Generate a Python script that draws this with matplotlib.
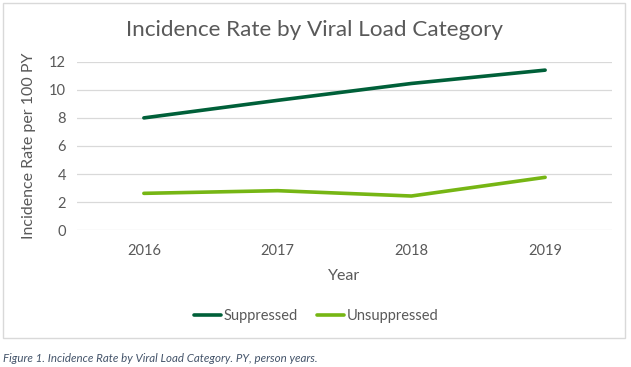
import numpy as np
import matplotlib
matplotlib.use('Agg')
import matplotlib.pyplot as plt
from matplotlib.patches import Rectangle

years = ['2016', '2017', '2018', '2019']
suppressed = [8.0, 9.25, 10.45, 11.4]
unsuppressed = [2.63, 2.82, 2.44, 3.77]

plt.rcParams['font.family'] = ['Lato', 'DejaVu Sans']
gray = '#595959'

fig = plt.figure(figsize=(6.31, 3.67), dpi=100)
W, H = 631, 367

# chart frame
fig.patches.append(Rectangle((3/W, 1-338/H), 622/W, 335/H, transform=fig.transFigure,
                             fill=False, edgecolor='#D9D9D9', lw=1))

ax = fig.add_axes([77/W, 1-230.3/H, (612-77)/W, (230.3-61.7)/H])
x = np.arange(len(years))
ax.plot(x, suppressed, color='#006039', lw=2.6, label='Suppressed', solid_capstyle='round')
ax.plot(x, unsuppressed, color='#76B614', lw=2.6, label='Unsuppressed', solid_capstyle='round')

ax.set_xlim(-0.5, 3.5)
ax.set_ylim(0, 12)
ax.set_yticks(np.arange(0, 13, 2))
ax.set_xticks(x)
ax.set_xticklabels(years)
ax.grid(axis='y', color='#D9D9D9', lw=0.9)
ax.set_axisbelow(True)
for s in ax.spines.values():
    s.set_visible(False)
ax.tick_params(length=0, labelsize=10.5, colors=gray, pad=8)
ax.tick_params(axis='x', pad=10)
ax.set_xlabel('Year', fontsize=11.5, color=gray, labelpad=8)
ax.set_ylabel('Incidence Rate per 100 PY', fontsize=11.5, color=gray, labelpad=9)

fig.text(315/W, 1-30/H, 'Incidence Rate by Viral Load Category', ha='center', va='center',
         fontsize=16.2, color=gray)

fig.legend(loc='center', bbox_to_anchor=(316/W, 1-316/H), ncol=2, frameon=False,
           fontsize=10.5, labelcolor=gray, handlelength=1.9, handletextpad=0.15,
           columnspacing=1.3)

fig.text(3/W, 1-359/H, 'Figure 1. Incidence Rate by Viral Load Category. PY, person years.',
         ha='left', va='center', fontsize=8.3, style='italic', color='#44546A')

fig.savefig('out.png', dpi=100)
